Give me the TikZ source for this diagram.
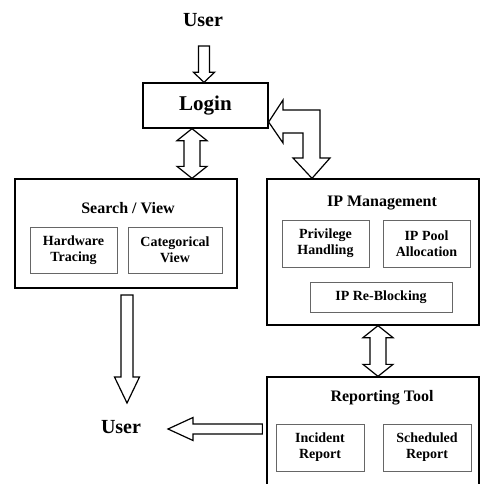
\documentclass[tikz,border=0pt]{standalone}
\usepackage{fontspec}
\setmainfont{Liberation Serif}
\usetikzlibrary{calc}
\tikzset{
  outer/.style={draw=black, line width=1.3pt, minimum width=#1},
  inner/.style={draw=black!60, line width=0.9pt, align=center, inner sep=0pt,
     font=\bfseries\fontsize{14}{16}\selectfont},
  title/.style={font=\bfseries\fontsize{16}{18}\selectfont, inner sep=0pt},
  usertext/.style={font=\bfseries\fontsize{20}{22}\selectfont, inner sep=0pt},
  blk/.style={draw=black, line width=1.2pt, fill=white, line join=miter},
}
\newcommand{\vdarrow}[3]{%
  \draw[blk] let \p1=(#1), \p2=(#2) in
   (#3,\y1) -- (#3+15pt,\y1-12pt) -- (#3+8pt,\y1-12pt) -- (#3+8pt,\y2+12pt)
   -- (#3+15pt,\y2+12pt) -- (#3,\y2) -- (#3-15pt,\y2+12pt) -- (#3-8pt,\y2+12pt)
   -- (#3-8pt,\y1-12pt) -- (#3-15pt,\y1-12pt) -- cycle;}
\begin{document}
\begin{tikzpicture}[x=1pt,y=-1pt]
\useasboundingbox (0,0) rectangle (481,484);
\clip (0,0) rectangle (481,484);
\fill[white] (0,0) rectangle (481,484);

% nodes
\node[usertext] (userTop) at (203,20) {User};
\node[draw=black, line width=1.3pt, minimum width=125pt, minimum height=45pt, inner sep=0pt,
  font=\bfseries\fontsize{21}{23}\selectfont] (login) at (205.5,105.5) {\raisebox{3pt}{Login}};

\node[draw=black, line width=1.3pt, minimum width=222pt, minimum height=109pt] (search) at (126,233.5) {};
\node[title] (searchT) at (128,208) {Search / View};
\node[inner, minimum width=87pt, minimum height=46pt] (hw) at (73.5,250) {Hardware\\Tracing};
\node[inner, minimum width=94pt, minimum height=46pt] (cat) at (175,250) {Categorical\\View};

\node[draw=black, line width=1.3pt, minimum width=212pt, minimum height=146pt] (ipm) at (373,252) {};
\node[title] (ipmT) at (382,203) {IP Management};
\node[inner, minimum width=87pt, minimum height=47pt] (priv) at (325.5,243.5) {Privilege\\Handling};
\node[inner, minimum width=87pt, minimum height=47pt] (pool) at (426.5,243.5) {IP Pool\\Allocation};
\node[inner, minimum width=142pt, minimum height=30pt] (reblock) at (381,297) {IP Re-Blocking};

\node[draw=black, line width=1.3pt, minimum width=212pt, minimum height=130pt] (rep) at (373,442) {};
\node[title] (repT) at (382,398) {Reporting Tool};
\node[inner, minimum width=88pt, minimum height=47pt] (inc) at (320,447.5) {Incident\\Report};
\node[inner, minimum width=88pt, minimum height=47pt] (sch) at (427,447.5) {Scheduled\\Report};

\node[usertext] (userBot) at (121,427) {User};

% free ends
\coordinate (topStart) at (204,46);
\coordinate (downStart) at (127,295);
\coordinate (downTip) at (127,403);
\coordinate (leftTip) at (168,429);

% User -> Login
\draw[blk] let \p1=(topStart), \p2=(login.north) in
  (\x1-5.5pt,\y1) -- (\x1+5.5pt,\y1) -- (\x1+5.5pt,\y2+10pt) -- (\x1+10.5pt,\y2+10pt)
  -- (\x1,\y2) -- (\x1-10.5pt,\y2+10pt) -- (\x1-5.5pt,\y2+10pt) -- cycle;

% Login <-> Search
\vdarrow{login.south}{search.north}{192pt}
% IP Management <-> Reporting
\vdarrow{ipm.south}{rep.north}{378pt}

% Login <-> IP Management (elbow)
\draw[blk] let \p1=(login.east), \p2=(ipm.north) in
  (\x1,-122pt) -- (283pt,-100pt) -- (283pt,-110pt) -- (320pt,-110pt) -- (320pt,-158pt)
  -- (330pt,-158pt) -- (312pt,\y2) -- (293pt,-158pt) -- (303pt,-158pt) -- (303pt,-133pt)
  -- (283pt,-133pt) -- (283pt,-143pt) -- cycle;

% Search -> User
\draw[blk] let \p1=(downStart), \p2=(downTip) in
  (\x1-6pt,\y1) -- (\x1+6pt,\y1) -- (\x1+6pt,\y2+26pt) -- (\x1+12.5pt,\y2+26pt)
  -- (\x2,\y2) -- (\x1-12.5pt,\y2+26pt) -- (\x1-6pt,\y2+26pt) -- cycle;

% Reporting -> User
\draw[blk] let \p1=(rep.west), \p2=(leftTip) in
  (\x1-4pt,\y2+5pt) -- (\x1-4pt,\y2-5pt) -- (\x2+25pt,\y2-5pt) -- (\x2+25pt,\y2-11.5pt)
  -- (\x2,\y2) -- (\x2+25pt,\y2+11.5pt) -- (\x2+25pt,\y2+5pt) -- cycle;
\end{tikzpicture}
\end{document}
